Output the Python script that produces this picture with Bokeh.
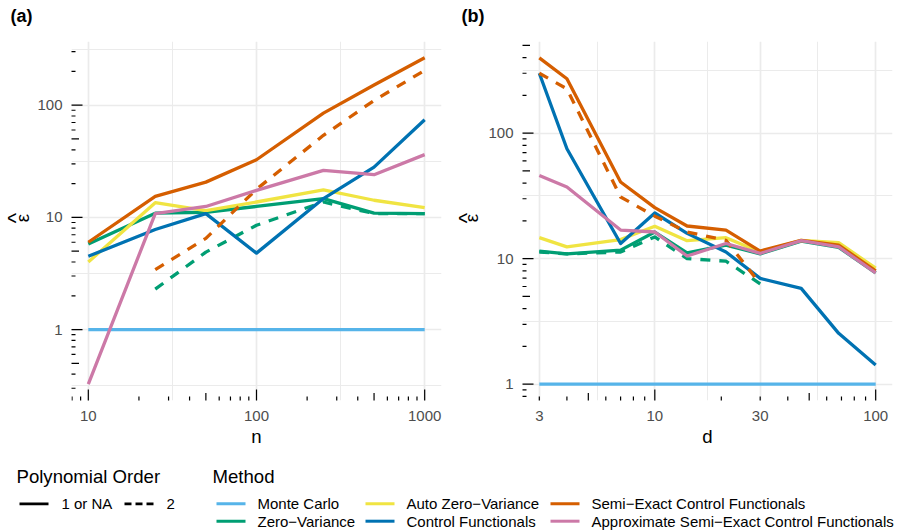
import numpy as np
from bokeh.plotting import figure
from bokeh.models import FixedTicker, Range1d, PrintfTickFormatter
from bokeh.layouts import column, row
from bokeh.embed import file_html
from bokeh.resources import INLINE
from bokeh.core.properties import value

FONT = "Liberation Sans"

methods = ["Monte Carlo", "Zero\u2212Variance", "Auto Zero\u2212Variance",
           "Control Functionals", "Semi\u2212Exact Control Functionals",
           "Approximate Semi\u2212Exact Control Functionals"]
colors = ["#56B4E9", "#009E73", "#F0E442", "#0072B2", "#D55E00", "#CC79A7"]
order_labels = ["1 or NA", "2"]
panel_tags = ["(a)", "(b)"]

# ---------------- panel (a): epsilon-hat vs n ----------------
n_all = [10, 25, 50, 100, 250, 500, 1000]
n_ord2 = [25, 50, 100, 250, 500, 1000]
a_mc = [1, 1, 1, 1, 1, 1, 1]
a_zv1 = [5.8, 10.9, 11.1, 12.5, 14.7, 10.9, 10.8]
a_zv2 = [2.29, 4.9, 8.5, 13.7, 10.8, 10.8]
a_azv1 = [4.0, 13.5, 11.5, 13.7, 17.6, 14.2, 12.2]
a_cf1 = [4.5, 7.8, 10.8, 4.8, 14.7, 28.0, 74.0]
a_secf1 = [6.0, 15.4, 20.6, 32.6, 84.9, 151.0, 264.0]
a_secf2 = [3.42, 6.5, 17.8, 53.8, 110.0, 204.0]
a_asecf1 = [0.326, 10.8, 12.5, 17.4, 26.2, 24.0, 36.2]
a_xbreaks = [10, 100, 1000]

# ---------------- panel (b): epsilon-hat vs d ----------------
d_all = [3, 4, 7, 10, 14, 21, 30, 46, 68, 100]
d_ord2 = [3, 4, 7, 10, 14, 21, 30]
b_mc = [1, 1, 1, 1, 1, 1, 1, 1, 1, 1]
b_zv1 = [11.5, 10.9, 11.7, 16.3, 11.1, 12.8, 10.9, 13.8, 12.3, 7.7]
b_zv2 = [11.3, 10.9, 11.3, 14.9, 10.0, 9.55, 6.3]
b_azv1 = [14.7, 12.4, 14.2, 18.1, 13.9, 14.7, 11.3, 14.0, 13.4, 8.4]
b_cf1 = [300.0, 75.0, 13.2, 23.1, 15.9, 11.3, 6.96, 5.8, 2.54, 1.42]
b_secf1 = [398.0, 271.0, 40.8, 25.5, 18.2, 16.9, 11.5, 14.0, 12.8, 8.0]
b_secf2 = [300.0, 225.0, 31.0, 21.8, 16.3, 14.0, 6.3]
b_asecf1 = [46.0, 37.2, 16.9, 16.3, 10.5, 13.2, 11.0, 13.9, 12.4, 7.7]
b_xbreaks = [3, 10, 30, 100]

y_breaks = [0.1, 1, 10, 100, 1000]

a_series = [(0, 1, n_all, a_mc), (1, 1, n_all, a_zv1), (1, 2, n_ord2, a_zv2),
            (2, 1, n_all, a_azv1), (3, 1, n_all, a_cf1), (4, 1, n_all, a_secf1),
            (4, 2, n_ord2, a_secf2), (5, 1, n_all, a_asecf1)]
b_series = [(0, 1, d_all, b_mc), (1, 1, d_all, b_zv1), (1, 2, d_ord2, b_zv2),
            (2, 1, d_all, b_azv1), (3, 1, d_all, b_cf1), (4, 1, d_all, b_secf1),
            (4, 2, d_ord2, b_secf2), (5, 1, d_all, b_asecf1)]

DASH = "10 9"
LW = 3.3
GRID = "#EBEBEB"
FRAME_H = 359
TOP_STRIP = 30
MID_H = 420
LG_H = 82


def log_range(arrays):
    lv = np.log10(np.concatenate([np.asarray(a, float) for a in arrays]))
    lo, hi = lv.min(), lv.max()
    pad = 0.05 * (hi - lo)
    return 10 ** (lo - pad), 10 ** (hi + pad)


def log_ticks(lo, hi):
    vals, sizes = [], []
    for k in range(int(np.floor(np.log10(lo))) - 1, int(np.ceil(np.log10(hi))) + 1):
        for m in range(1, 10):
            v = m * 10.0 ** k
            if lo <= v <= hi:
                vals.append(v)
                sizes.append(22 if m == 1 else (15 if m == 5 else 8))
    return vals, sizes


def strip(width, height):
    s = figure(width=width, height=height, x_range=Range1d(0, width),
               y_range=Range1d(height, 0), x_axis_location=None, y_axis_location=None,
               min_border=0, output_backend="svg", toolbar_location=None)
    s.grid.visible = False
    s.outline_line_color = None
    s.background_fill_color = "white"
    s.border_fill_color = "white"
    return s


def make_panel(xlab, series, xbreaks, width, left, right, top):
    xlo, xhi = log_range([s[2] for s in series])
    ylo, yhi = log_range([s[3] for s in series])
    p = figure(width=width, height=MID_H, x_axis_type="log", y_axis_type="log",
               x_range=Range1d(xlo, xhi), y_range=Range1d(ylo, yhi),
               min_border_left=left, min_border_right=right, min_border_top=top,
               min_border_bottom=MID_H - top - FRAME_H,
               output_backend="svg", toolbar_location=None)
    p.outline_line_color = None
    p.background_fill_color = "white"
    p.border_fill_color = "white"

    xb = np.asarray(xbreaks, float)
    yb = np.asarray(y_breaks, float)
    p.xgrid.ticker = FixedTicker(ticks=list(xb), minor_ticks=list(np.sqrt(xb[:-1] * xb[1:])))
    p.ygrid.ticker = FixedTicker(ticks=list(yb), minor_ticks=list(np.sqrt(yb[:-1] * yb[1:])))
    for g in (p.xgrid[0], p.ygrid[0]):
        g.grid_line_color = GRID
        g.grid_line_width = 1.7
        g.minor_grid_line_color = GRID
        g.minor_grid_line_width = 1.0

    p.xaxis.ticker = FixedTicker(ticks=list(xbreaks))
    p.yaxis.ticker = FixedTicker(ticks=[1, 10, 100])
    for ax in (p.xaxis[0], p.yaxis[0]):
        ax.formatter = PrintfTickFormatter(format="%d")
        ax.axis_line_color = None
        ax.major_tick_in = 0
        ax.major_tick_out = 0
        ax.minor_tick_in = 0
        ax.minor_tick_out = 0
        ax.major_tick_line_color = None
        ax.minor_tick_line_color = None
        ax.major_label_text_font = FONT
        ax.major_label_text_font_size = "15px"
        ax.major_label_text_color = "#4D4D4D"
        ax.axis_label_text_font = FONT
        ax.axis_label_text_font_size = "18.6px"
        ax.axis_label_text_font_style = "normal"
        ax.axis_label_text_color = "black"
    p.xaxis.axis_label = xlab
    p.xaxis.major_label_standoff = 10
    p.yaxis.major_label_standoff = 9
    p.xaxis.axis_label_standoff = 2

    for mi, order, xs, ys in series:
        p.line(xs, ys, line_color=colors[mi], line_width=LW,
               line_dash="solid" if order == 1 else DASH, line_join="round")

    # annotation log ticks along the left and bottom edges of the panel
    yv, ys_ = log_ticks(ylo, yhi)
    p.scatter(x=[xlo] * len(yv), y=yv, size=ys_, marker="dash",
              line_color="black", line_width=1.2)
    xv, xs_ = log_ticks(xlo, xhi)
    p.scatter(x=xv, y=[ylo] * len(xv), size=xs_, marker="dash", angle=np.pi / 2,
              line_color="black", line_width=1.2)
    return p


def ylab_strip(width, eps_x, hat_x):
    s = strip(width, MID_H)
    yc = MID_H - (MID_H - (41 - TOP_STRIP) - FRAME_H) - FRAME_H / 2 + 16
    s.text(x=[eps_x], y=[yc], text=["\u03b5"], angle=np.pi / 2, text_font=value(FONT),
           text_font_size="18.6px", text_align="center", text_baseline="middle",
           text_color="black")
    s.text(x=[hat_x], y=[yc], text=["^"], angle=np.pi / 2, text_font=value(FONT),
           text_font_size="22px", text_align="center", text_baseline="middle",
           text_color="black")
    return s


# top strip with panel tags
top = strip(898, TOP_STRIP)
top.text(x=[10, 461], y=[15, 15], text=panel_tags, text_font=value(FONT),
         text_font_size="18px", text_font_style="bold", text_align="left",
         text_baseline="middle", text_color="black")

# middle row: y-title strip | panel (a) | y-title strip | panel (b)
sa = ylab_strip(31, 21.5, 15.0)
pa = make_panel("n", a_series, a_xbreaks, 419, 40, 9, 41 - TOP_STRIP)
sb = ylab_strip(35, 21.4, 16.2)
pb = make_panel("d", b_series, b_xbreaks, 413, 37, 6, 41 - TOP_STRIP)

# ---------------- legend strip ----------------
lg = strip(898, LG_H)
title_y = 25.7
row_y = [53.3, 70.7]
lg.text(x=[16, 212], y=[title_y, title_y], text=["Polynomial Order", "Method"],
        text_font=value(FONT), text_font_size="18.6px", text_baseline="middle",
        text_color="black")

po_x = [19, 124]
po_dash = ["solid", "7 4"]
for k in range(2):
    lg.segment(x0=[po_x[k]], y0=[row_y[0]], x1=[po_x[k] + 29], y1=[row_y[0]],
               line_color="black", line_width=2.7, line_dash=po_dash[k])
lg.text(x=[px + 42 for px in po_x], y=[row_y[0]] * 2, text=order_labels,
        text_font=value(FONT), text_font_size="15px", text_baseline="middle",
        text_color="black")

col_x = [216, 365, 550]
mx = [col_x[i // 2] for i in range(len(methods))]
my = [row_y[i % 2] for i in range(len(methods))]
lg.segment(x0=mx, y0=my, x1=[v + 29 for v in mx], y1=my, line_color=colors,
           line_width=3.0)
lg.text(x=[v + 41 for v in mx], y=my, text=methods, text_font=value(FONT),
        text_font_size="15px", text_baseline="middle", text_color="black")

layout = column(top, row(sa, pa, sb, pb), lg)
open("out.html", "w").write(file_html(layout, INLINE))
